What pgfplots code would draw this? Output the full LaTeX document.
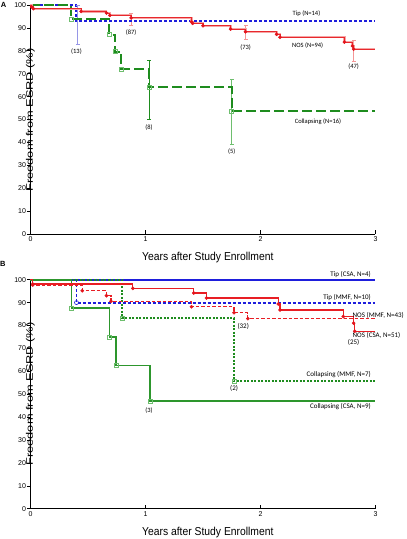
\documentclass[border=0pt]{standalone}
\usepackage{fontspec}
\setmainfont{Liberation Sans}
\newfontfamily\carlito{Carlito}
\newfontfamily\xlabfont[FakeStretch=0.9]{Liberation Sans}
\newfontfamily\ylabfont[FakeStretch=1.35]{Liberation Sans}
\usepackage{pgfplots}
\pgfplotsset{compat=1.18}
\definecolor{redHalo}{RGB}{246,165,165}
\definecolor{redA}{RGB}{232,40,45}
\definecolor{redDot}{RGB}{228,20,28}
\definecolor{redB}{RGB}{232,30,36}
\definecolor{errPink}{RGB}{244,150,150}
\definecolor{blueD}{RGB}{30,30,220}
\definecolor{errBlue}{RGB}{150,150,230}
\definecolor{greenD}{RGB}{30,140,30}
\definecolor{greenB}{RGB}{45,150,45}
\definecolor{greenL}{RGB}{110,190,110}
\pgfplotsset{
  kmaxis/.style={
    scale only axis, width=345pt, height=229pt,
    xmin=0, xmax=3, ymin=0, ymax=100,
    axis lines=left, axis line style={-, line width=0.8pt},
    xtick={0,1,2,3}, ytick={0,10,...,100},
    xtick align=inside, ytick align=outside,
    major tick length=3.5pt,
    tick style={black, line width=0.6pt},
    tick label style={font=\fontsize{7}{8}\selectfont},
    yticklabel style={inner sep=0.8pt},
    xticklabel style={inner sep=1.5pt, yshift=-1pt},
    /pgf/number format/assume math mode=true,
    clip=false,
  },
  redmark/.style={only marks, mark=*, mark size=1.6pt, mark options={fill=redDot, draw=redDot, solid}},
  greensq/.style={only marks, mark=square, mark size=2pt, mark options={draw=greenL, fill=white, line width=0.6pt, solid}},
  errbar/.style={color=#1, solid, line width=0.6pt, mark=-, mark size=2pt, mark options={color=#1, solid, line width=0.6pt}},
}
\newcommand{\annA}{\carlito\fontsize{6.5}{7}\selectfont}
\newcommand{\annB}{\carlito\fontsize{7}{8}\selectfont}
\begin{document}
\begin{tikzpicture}
\path[use as bounding box] (0,0) rectangle (407pt,539pt);
% ---------------- Panel A ----------------
\begin{axis}[kmaxis, at={(30.5pt,305pt)}, anchor=south west]
% error bars (drawn first)
\addplot[errbar=errBlue] coordinates {(0.41,83.0) (0.41,99.9)};
\addplot[errbar=errPink] coordinates {(0.875,91.2) (0.875,96.3)};
\addplot[errbar=errPink] coordinates {(1.87,85.0) (1.87,91.2)};
\addplot[errbar=errPink] coordinates {(2.81,75.5) (2.81,84.7)};
\addplot[errbar=greenD] coordinates {(1.03,50.3) (1.03,75.9)};
\addplot[errbar=greenL] coordinates {(1.75,39.0) (1.75,67.7)};
% Tip
\addplot[const plot, color=blueD, line width=2pt, dash pattern=on 3pt off 2pt] coordinates {(0,100) (0.40,92.86) (3,92.86)};
% Collapsing
\addplot[const plot, color=greenD, line width=2pt, dash pattern=on 10pt off 4pt] coordinates {(0,100) (0.355,93.75) (0.685,87.0) (0.735,79.6) (0.79,72.0) (1.03,64.1) (1.75,53.5) (3,53.5)};
\addplot[greensq] coordinates {(0.355,93.75) (0.685,87.0) (0.735,79.6) (0.79,72.0) (1.03,64.1) (1.75,53.5)};
% NOS (pink halo + red core)
\addplot[const plot, color=redHalo, line width=2.2pt] coordinates {(0,100) (0.01,99.2) (0.025,98.4) (0.44,97.2) (0.66,96.5) (0.69,95.5) (0.875,94.4) (1.40,92.7) (1.41,92.0) (1.50,90.9) (1.74,89.5) (1.87,88.3) (2.14,87.2) (2.17,85.9) (2.73,83.8) (2.80,82.1) (2.81,80.7) (3,80.7)};
\addplot[const plot, color=redA, line width=0.8pt] coordinates {(0,100) (0.01,99.2) (0.025,98.4) (0.44,97.2) (0.66,96.5) (0.69,95.5) (0.875,94.4) (1.40,92.7) (1.41,92.0) (1.50,90.9) (1.74,89.5) (1.87,88.3) (2.14,87.2) (2.17,85.9) (2.73,83.8) (2.80,82.1) (2.81,80.7) (3,80.7)};
\addplot[redmark] coordinates {(0.01,99.2) (0.025,98.4) (0.44,97.2) (0.66,96.5) (0.69,95.5) (0.875,94.4) (1.40,92.7) (1.41,92.0) (1.50,90.9) (1.74,89.5) (1.87,88.3) (2.14,87.2) (2.17,85.9) (2.73,83.8) (2.80,82.1) (2.81,80.7)};
% annotations
\node[font=\annA] at (axis cs:2.40,96.4) {Tip (N=14)};
\node[font=\annA] at (axis cs:2.41,82.3) {NOS (N=94)};
\node[font=\annA] at (axis cs:2.50,49.1) {Collapsing (N=16)};
\node[font=\annA] at (axis cs:0.875,88.0) {(87)};
\node[font=\annA] at (axis cs:0.40,79.6) {(13)};
\node[font=\annA] at (axis cs:1.03,46.5) {(8)};
\node[font=\annA] at (axis cs:1.87,81.4) {(73)};
\node[font=\annA] at (axis cs:2.81,73.1) {(47)};
\node[font=\annA] at (axis cs:1.75,35.9) {(5)};
\node[font=\bfseries\fontsize{7.5}{8}\selectfont] at (rel axis cs:-0.078,1) {A};
\node[font=\xlabfont\fontsize{11.5}{13}\selectfont] at (rel axis cs:0.514,0) [yshift=-23.5pt] {Years after Study Enrollment};
\node[font=\ylabfont\fontsize{9.5}{11}\selectfont, rotate=90] at (rel axis cs:0,0.607) [xshift=-25pt] {Freedom from ESRD (\%)};
\end{axis}
% ---------------- Panel B ----------------
\begin{axis}[kmaxis, at={(30.5pt,30.3pt)}, anchor=south west]
% Tip CSA
\addplot[color=blueD, line width=1.8pt] coordinates {(0,100) (3,100)};
% Tip MMF
\addplot[const plot, color=blueD, line width=1.9pt, dash pattern=on 3pt off 2pt] coordinates {(0,100) (0.40,90) (3,90)};
\addplot[only marks, mark=o, mark size=2pt, mark options={draw=blueD, fill=white, line width=0.6pt, solid}] coordinates {(0.40,90)};
% Collapsing MMF
\addplot[const plot, color=greenD, line width=2pt, dash pattern=on 2pt off 1.5pt] coordinates {(0,100) (0.795,83.3) (1.77,55.6) (3,55.6)};
\addplot[greensq] coordinates {(0.795,83.3) (1.77,55.6)};
% Collapsing CSA
\addplot[const plot, color=greenB, line width=1.8pt] coordinates {(0,100) (0.357,87.5) (0.687,75.0) (0.746,62.5) (1.04,46.9) (3,46.9)};
\addplot[greensq] coordinates {(0.357,87.5) (0.687,75.0) (0.746,62.5) (1.04,46.9)};
% NOS MMF
\addplot[const plot, color=redB, line width=1.3pt, dash pattern=on 3.5pt off 2pt] coordinates {(0,100) (0.02,97.7) (0.45,95.2) (0.66,93.0) (0.70,90.6) (1.40,88.2) (1.77,85.6) (1.89,83.0) (3,83.0)};
\addplot[redmark] coordinates {(0.02,97.7) (0.45,95.2) (0.66,93.0) (0.70,90.6) (1.40,88.2) (1.77,85.6) (1.89,83.0)};
% NOS CSA
\addplot[const plot, color=redB, line width=1.3pt] coordinates {(0,100) (0.02,98.1) (0.89,96.2) (1.42,94.2) (1.53,92.0) (2.155,89.4) (2.17,86.8) (2.72,83.9) (2.81,81.0) (2.82,77.5) (3,77.5)};
\addplot[redmark] coordinates {(0.02,98.1) (0.89,96.2) (1.42,94.2) (1.53,92.0) (2.155,89.4) (2.17,86.8) (2.72,83.9) (2.81,81.0) (2.82,77.5)};
% annotations
\node[font=\annB, anchor=east] at (axis cs:2.99,102.1) {Tip (CSA, N=4)};
\node[font=\annB, anchor=east] at (axis cs:2.99,92.3) {Tip (MMF, N=10)};
\node[font=\annB, anchor=west, inner sep=0pt] at (axis cs:2.80,84.6) {NOS (MMF, N=43)};
\node[font=\annB, anchor=west, inner sep=0pt] at (axis cs:2.80,75.7) {NOS (CSA, N=51)};
\node[font=\annB, anchor=east] at (axis cs:2.99,58.5) {Collapsing (MMF, N=7)};
\node[font=\annB, anchor=east] at (axis cs:2.99,44.4) {Collapsing (CSA, N=9)};
\node[font=\annB] at (axis cs:2.81,72.4) {(25)};
\node[font=\annB] at (axis cs:1.85,79.5) {(32)};
\node[font=\annB] at (axis cs:1.77,52.5) {(2)};
\node[font=\annA] at (axis cs:1.03,43.0) {(3)};
\node[font=\bfseries\fontsize{7.5}{8}\selectfont] at (rel axis cs:-0.08,1) [yshift=15.7pt] {B};
\node[font=\xlabfont\fontsize{11.5}{13}\selectfont] at (rel axis cs:0.514,0) [yshift=-24pt] {Years after Study Enrollment};
\node[font=\ylabfont\fontsize{9.5}{11}\selectfont, rotate=90] at (rel axis cs:0,0.61) [xshift=-25pt] {Freedom from ESRD (\%)};
\end{axis}
\end{tikzpicture}
\end{document}
